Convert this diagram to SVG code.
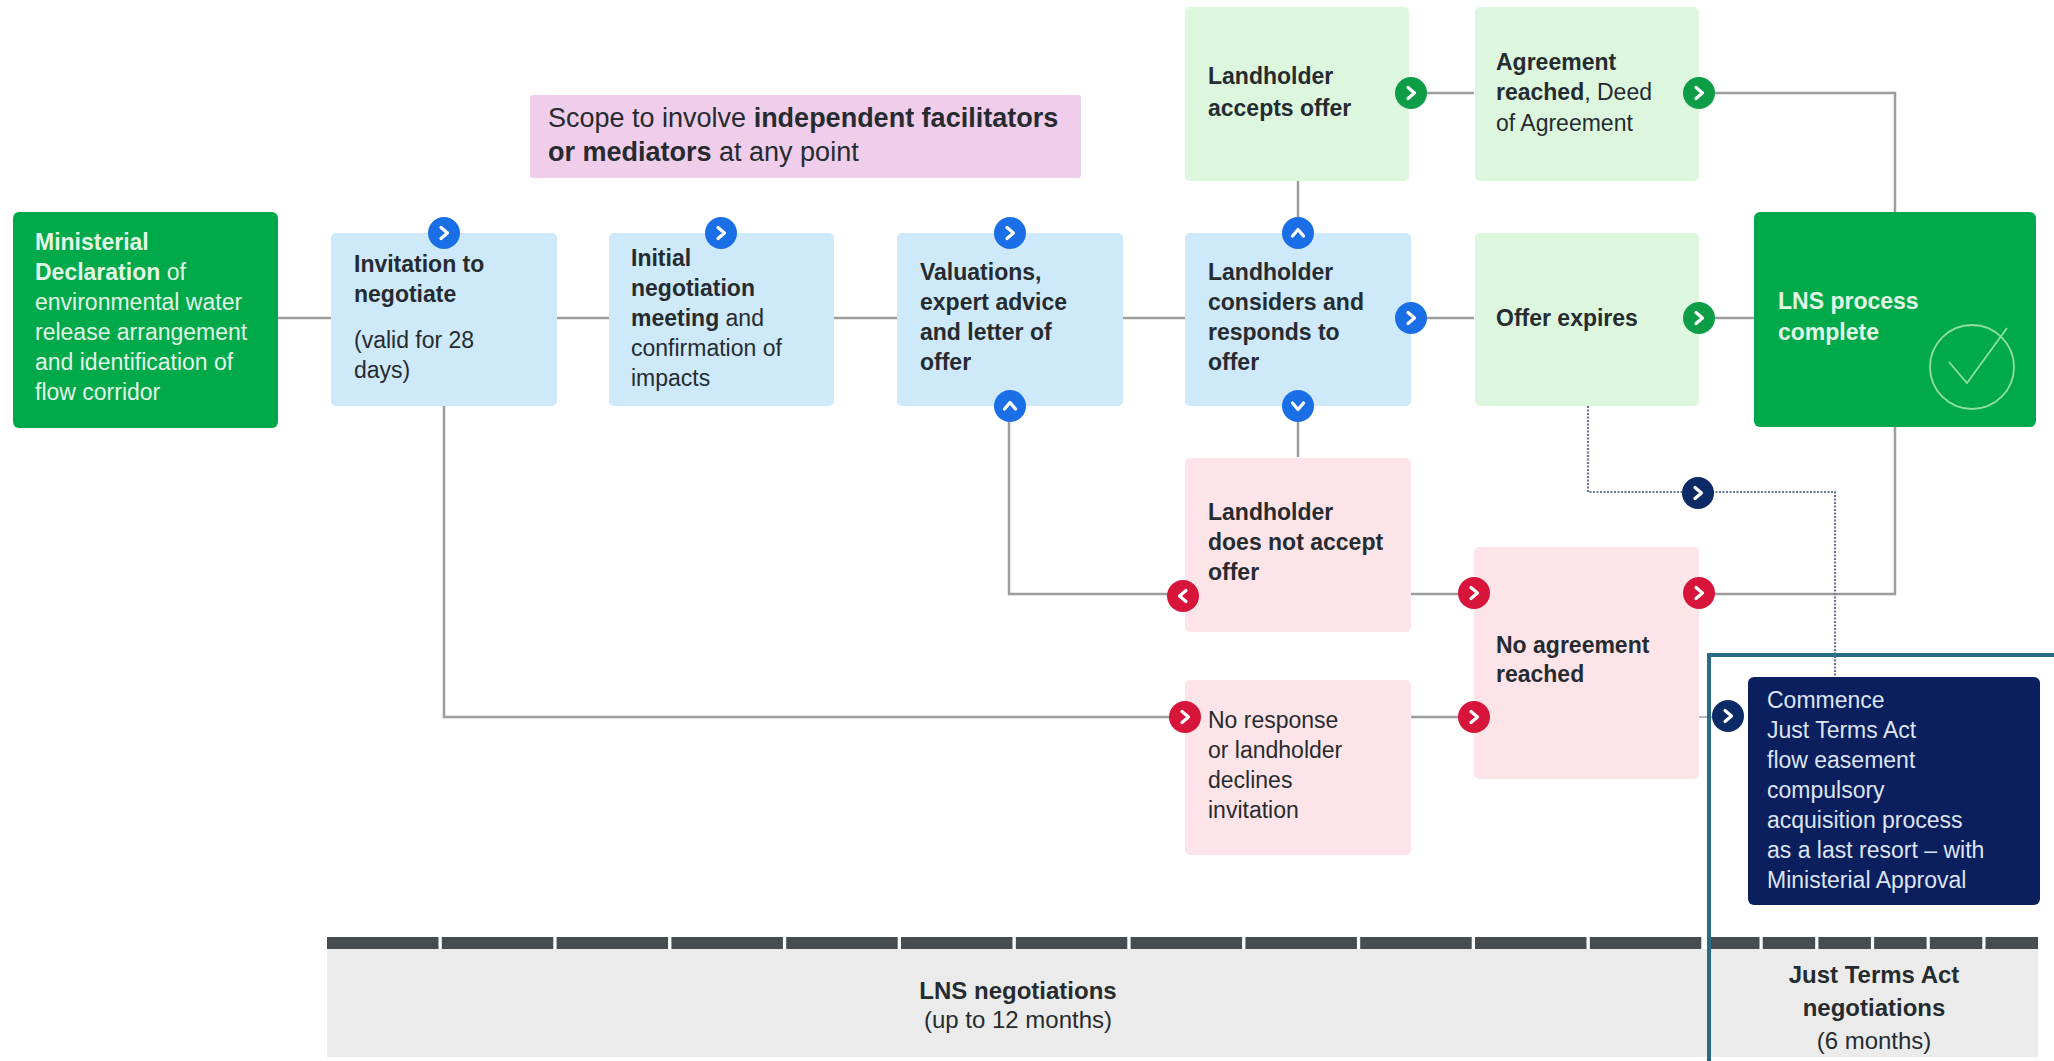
<svg xmlns="http://www.w3.org/2000/svg" xmlns:xlink="http://www.w3.org/1999/xlink" width="2054" height="1061" viewBox="0 0 2054 1061">
<style>
.t{font-family:"Liberation Sans",Arial,sans-serif;font-size:23px;fill:#262b30}
.b{font-weight:700}
.w{fill:#e2f6e6}
.nv{fill:#dde4f2}
.dg{fill:#00a94a}
.lb{fill:#cde9fa}
.lg{fill:#dcf7de}
.lp{fill:#fde4e8}
.navy{fill:#0b1f5e}
.ln{fill:none;stroke:#9d9d9d;stroke-width:2.5}
.dot{fill:none;stroke:#6b7596;stroke-width:2.2;stroke-dasharray:2 1.5}
.cB{fill:#1b6fe6}
.cG{fill:#0d9d46}
.cR{fill:#d7153a}
.cN{fill:#0b2a66}
.seg{fill:#474c50}
</style>
<defs>
<polyline id="chev" points="-3,-5.5 3.5,0 -3,5.5" fill="none" stroke="#ffffff" stroke-width="3.2" stroke-linecap="round" stroke-linejoin="round"/>
</defs>
<rect width="2054" height="1061" fill="#ffffff"/>

<g id="connectors">
<path class="ln" d="M278,318 H331"/>
<path class="ln" d="M557,318 H609"/>
<path class="ln" d="M834,318 H897"/>
<path class="ln" d="M1123,318 H1185"/>
<path class="ln" d="M1411,318 H1474"/>
<path class="ln" d="M1699,318 H1754"/>
<path class="ln" d="M1298,181 V233"/>
<path class="ln" d="M1411,93 H1474"/>
<path class="ln" d="M1699,93 H1895 V212"/>
<path class="ln" d="M1298,406 V457"/>
<path class="ln" d="M1185,594 H1009 V406"/>
<path class="ln" d="M444,406 V717 H1185"/>
<path class="ln" d="M1411,594 H1474"/>
<path class="ln" d="M1411,717 H1474"/>
<path class="ln" d="M1699,594 H1895 V427"/>
<path class="dot" d="M1588,406 V492 H1835 V677"/>
<path class="ln" d="M1699,717 H1729" style="stroke-width:1.5"/>
</g>

<g id="scope">
<rect x="530" y="95" width="551" height="83" rx="3" fill="#f0cdea"/>
<text class="t" style="font-size:27px" x="548" y="127">Scope to involve <tspan class="b">independent facilitators</tspan></text>
<text class="t" style="font-size:27px" x="548" y="161"><tspan class="b">or mediators</tspan> at any point</text>
</g>

<g id="ministerial">
<rect class="dg" x="13" y="212" width="265" height="216" rx="6"/>
<text class="t w" x="35" y="250"><tspan class="b">Ministerial</tspan></text>
<text class="t w" x="35" y="280"><tspan class="b">Declaration</tspan> of</text>
<text class="t w" x="35" y="310">environmental water</text>
<text class="t w" x="35" y="340">release arrangement</text>
<text class="t w" x="35" y="370">and identification of</text>
<text class="t w" x="35" y="400">flow corridor</text>
</g>

<g id="invitation">
<rect class="lb" x="331" y="233" width="226" height="173" rx="5"/>
<text class="t b" x="354" y="272">Invitation to</text>
<text class="t b" x="354" y="302">negotiate</text>
<text class="t" x="354" y="348">(valid for 28</text>
<text class="t" x="354" y="378">days)</text>
</g>

<g id="initial">
<rect class="lb" x="609" y="233" width="225" height="173" rx="5"/>
<text class="t b" x="631" y="266">Initial</text>
<text class="t b" x="631" y="296">negotiation</text>
<text class="t" x="631" y="326"><tspan class="b">meeting</tspan> and</text>
<text class="t" x="631" y="356">confirmation of</text>
<text class="t" x="631" y="386">impacts</text>
</g>

<g id="valuations">
<rect class="lb" x="897" y="233" width="226" height="173" rx="5"/>
<text class="t b" x="920" y="280">Valuations,</text>
<text class="t b" x="920" y="310">expert advice</text>
<text class="t b" x="920" y="340">and letter of</text>
<text class="t b" x="920" y="370">offer</text>
</g>

<g id="considers">
<rect class="lb" x="1185" y="233" width="226" height="173" rx="5"/>
<text class="t b" x="1208" y="280">Landholder</text>
<text class="t b" x="1208" y="310">considers and</text>
<text class="t b" x="1208" y="340">responds to</text>
<text class="t b" x="1208" y="370">offer</text>
</g>

<g id="accepts">
<rect class="lg" x="1185" y="7" width="224" height="174" rx="5"/>
<text class="t b" x="1208" y="84">Landholder</text>
<text class="t b" x="1208" y="116">accepts offer</text>
</g>

<g id="agreement">
<rect class="lg" x="1475" y="7" width="224" height="174" rx="5"/>
<text class="t b" x="1496" y="70">Agreement</text>
<text class="t" x="1496" y="100"><tspan class="b">reached</tspan>, Deed</text>
<text class="t" x="1496" y="131">of Agreement</text>
</g>

<g id="expires">
<rect class="lg" x="1475" y="233" width="224" height="173" rx="5"/>
<text class="t b" x="1496" y="326">Offer expires</text>
</g>

<g id="complete">
<rect class="dg" x="1754" y="212" width="282" height="215" rx="6"/>
<text class="t b w" x="1778" y="309">LNS process</text>
<text class="t b w" x="1778" y="340">complete</text>
<circle cx="1972" cy="367" r="42" fill="none" stroke="#8fe0a2" stroke-width="1.8"/>
<polyline points="1949,362 1967,383 2007,328" fill="none" stroke="#8fe0a2" stroke-width="1.8"/>
</g>

<g id="notaccept">
<rect class="lp" x="1185" y="458" width="226" height="174" rx="5"/>
<text class="t b" x="1208" y="520">Landholder</text>
<text class="t b" x="1208" y="550">does not accept</text>
<text class="t b" x="1208" y="580">offer</text>
</g>

<g id="noagreement">
<rect class="lp" x="1474" y="547" width="225" height="232" rx="5"/>
<text class="t b" x="1496" y="653">No agreement</text>
<text class="t b" x="1496" y="682">reached</text>
</g>

<g id="noresponse">
<rect class="lp" x="1185" y="680" width="226" height="175" rx="5"/>
<text class="t" x="1208" y="728">No response</text>
<text class="t" x="1208" y="758">or landholder</text>
<text class="t" x="1208" y="788">declines</text>
<text class="t" x="1208" y="818">invitation</text>
</g>

<g id="commence">
<rect class="navy" x="1748" y="677" width="292" height="228" rx="6"/>
<text class="t nv" x="1767" y="708">Commence</text>
<text class="t nv" x="1767" y="738">Just Terms Act</text>
<text class="t nv" x="1767" y="768">flow easement</text>
<text class="t nv" x="1767" y="798">compulsory</text>
<text class="t nv" x="1767" y="828">acquisition process</text>
<text class="t nv" x="1767" y="858">as a last resort – with</text>
<text class="t nv" x="1767" y="888">Ministerial Approval</text>
</g>

<g id="ports">
<circle class="cB" cx="444" cy="233" r="16"/><use xlink:href="#chev" transform="translate(444,233)"/>
<circle class="cB" cx="721" cy="233" r="16"/><use xlink:href="#chev" transform="translate(721,233)"/>
<circle class="cB" cx="1010" cy="233" r="16"/><use xlink:href="#chev" transform="translate(1010,233)"/>
<circle class="cB" cx="1010" cy="406" r="16"/><use xlink:href="#chev" transform="translate(1010,406) rotate(-90)"/>
<circle class="cB" cx="1298" cy="233" r="16"/><use xlink:href="#chev" transform="translate(1298,233) rotate(-90)"/>
<circle class="cB" cx="1298" cy="406" r="16"/><use xlink:href="#chev" transform="translate(1298,406) rotate(90)"/>
<circle class="cB" cx="1411" cy="318" r="16"/><use xlink:href="#chev" transform="translate(1411,318)"/>
<circle class="cG" cx="1411" cy="93" r="16"/><use xlink:href="#chev" transform="translate(1411,93)"/>
<circle class="cG" cx="1699" cy="93" r="16"/><use xlink:href="#chev" transform="translate(1699,93)"/>
<circle class="cG" cx="1699" cy="318" r="16"/><use xlink:href="#chev" transform="translate(1699,318)"/>
<circle class="cR" cx="1183" cy="596" r="16"/><use xlink:href="#chev" transform="translate(1183,596) rotate(180)"/>
<circle class="cR" cx="1474" cy="593" r="16"/><use xlink:href="#chev" transform="translate(1474,593)"/>
<circle class="cR" cx="1699" cy="593" r="16"/><use xlink:href="#chev" transform="translate(1699,593)"/>
<circle class="cR" cx="1185" cy="717" r="16"/><use xlink:href="#chev" transform="translate(1185,717)"/>
<circle class="cR" cx="1474" cy="717" r="16"/><use xlink:href="#chev" transform="translate(1474,717)"/>
<circle class="cN" cx="1698" cy="493" r="16"/><use xlink:href="#chev" transform="translate(1698,493)"/>
<circle class="cN" cx="1728" cy="716" r="16"/><use xlink:href="#chev" transform="translate(1728,716)"/>
</g>

<g id="timeline">
<rect x="327" y="949" width="1711" height="108" fill="#ebebeb"/>
<rect class="seg" x="327" y="937" width="111.5" height="12"/>
<rect class="seg" x="441.8" y="937" width="111.5" height="12"/>
<rect class="seg" x="556.6" y="937" width="111.5" height="12"/>
<rect class="seg" x="671.4" y="937" width="111.5" height="12"/>
<rect class="seg" x="786.2" y="937" width="111.5" height="12"/>
<rect class="seg" x="901" y="937" width="111.5" height="12"/>
<rect class="seg" x="1015.8" y="937" width="111.5" height="12"/>
<rect class="seg" x="1130.6" y="937" width="111.5" height="12"/>
<rect class="seg" x="1245.4" y="937" width="111.5" height="12"/>
<rect class="seg" x="1360.2" y="937" width="111.5" height="12"/>
<rect class="seg" x="1475" y="937" width="111.5" height="12"/>
<rect class="seg" x="1589.8" y="937" width="111.5" height="12"/>
<rect class="seg" x="1707" y="937" width="52.5" height="12"/>
<rect class="seg" x="1762.7" y="937" width="52.5" height="12"/>
<rect class="seg" x="1818.4" y="937" width="52.5" height="12"/>
<rect class="seg" x="1874.1" y="937" width="52.5" height="12"/>
<rect class="seg" x="1929.8" y="937" width="52.5" height="12"/>
<rect class="seg" x="1985.5" y="937" width="52.5" height="12"/>
<text class="t b" x="1018" y="999" text-anchor="middle" style="font-size:24px">LNS negotiations</text>
<text class="t" x="1018" y="1028" text-anchor="middle" style="font-size:24px">(up to 12 months)</text>
<text class="t b" x="1874" y="983" text-anchor="middle" style="font-size:24px">Just Terms Act</text>
<text class="t b" x="1874" y="1016" text-anchor="middle" style="font-size:24px">negotiations</text>
<text class="t" x="1874" y="1049" text-anchor="middle" style="font-size:24px">(6 months)</text>
</g>

<g id="jta-frame">
<path d="M1709,1061 V655 H2054" fill="none" stroke="#2a6a85" stroke-width="4"/>
</g>
</svg>
